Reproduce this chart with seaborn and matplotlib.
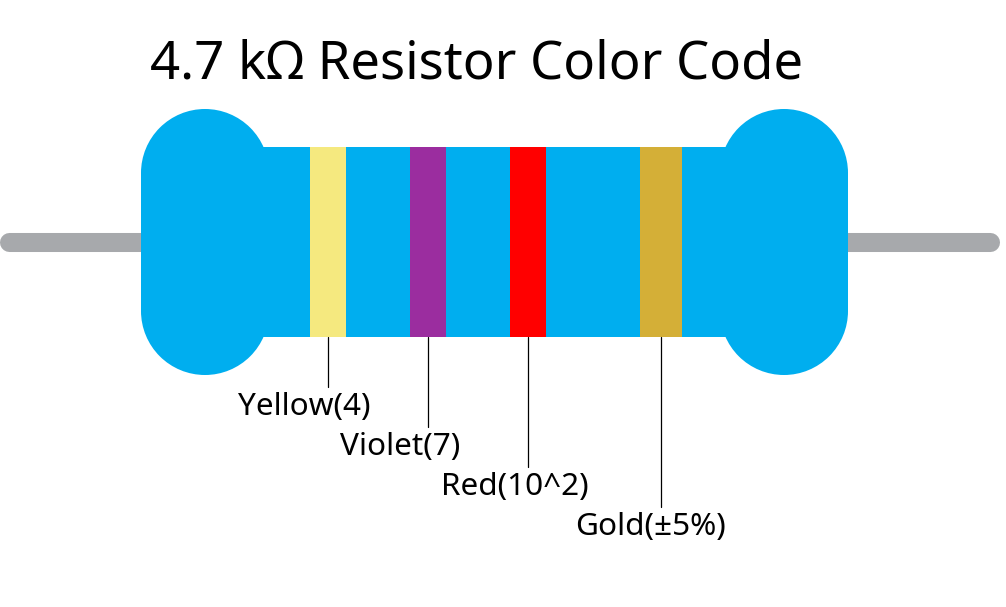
import matplotlib
matplotlib.use("Agg")
import matplotlib.pyplot as plt
from matplotlib.patches import Circle
import pandas as pd
import seaborn as sns

# Bands of the resistor, left to right
band_names = ["Yellow(4)", "Violet(7)", "Red(10^2)", "Gold(±5%)"]
band_colors = ["#F5E97F", "#9B2D9F", "#FF0000", "#D4AF37"]
band_left = [310, 410, 510, 640]
band_right = [346, 446, 546, 682]
leader_end = [387, 427, 467, 507]
label_y = [407, 447, 487, 527]
label_x = [304, 400, 515, 651]

title = "4.7 kΩ Resistor Color Code"
body_color = "#00AEEF"
lead_color = "#A7A9AC"

sns.set_theme(style="white")
plt.rcParams["font.family"] = ["Noto Sans", "DejaVu Sans"]

W, H = 1006, 607
fig = plt.figure(figsize=(W / 100, H / 100), dpi=100)
ax = fig.add_axes([0, 0, 1, 1])

# lead wire, behind everything
lead = pd.DataFrame({"x": [9.5, 990.5], "y": [242, 242]})
sns.lineplot(data=lead, x="x", y="y", color=lead_color, lw=13.7, estimator=None,
             solid_capstyle="round", ax=ax, zorder=1)

# end caps: a rounded block made of circles and a bar
for cx in [205, 784]:
    for cy in [173, 311]:
        ax.add_patch(Circle((cx, cy), 64, fc=body_color, ec="none", zorder=2))
    ax.bar(cx - 64, 138, width=128, bottom=173, align="edge", color=body_color, lw=0, zorder=2)

# the body between the caps
ax.bar(205, 190, width=579, bottom=147, align="edge", color=body_color, lw=0, zorder=2)

# colour bands
widths = [r - l for l, r in zip(band_left, band_right)]
ax.bar(band_left, [190] * 4, width=widths, bottom=147, align="edge", color=band_colors, lw=0, zorder=3)

# leader lines and labels
for i, name in enumerate(band_names):
    mid = (band_left[i] + band_right[i]) / 2
    leader = pd.DataFrame({"x": [mid, mid], "y": [337, leader_end[i]]})
    sns.lineplot(data=leader, x="x", y="y", color="black", lw=0.9, estimator=None, ax=ax, zorder=4)
    ax.text(label_x[i], label_y[i], name, fontsize=22.7, ha="center", va="center", color="black")

ax.text(150, 65, title, fontsize=37.9, ha="left", va="center", color="black")

ax.set_xlim(0, W)
ax.set_ylim(H, 0)
ax.axis("off")

fig.savefig("out.png", dpi=100, facecolor="white")
